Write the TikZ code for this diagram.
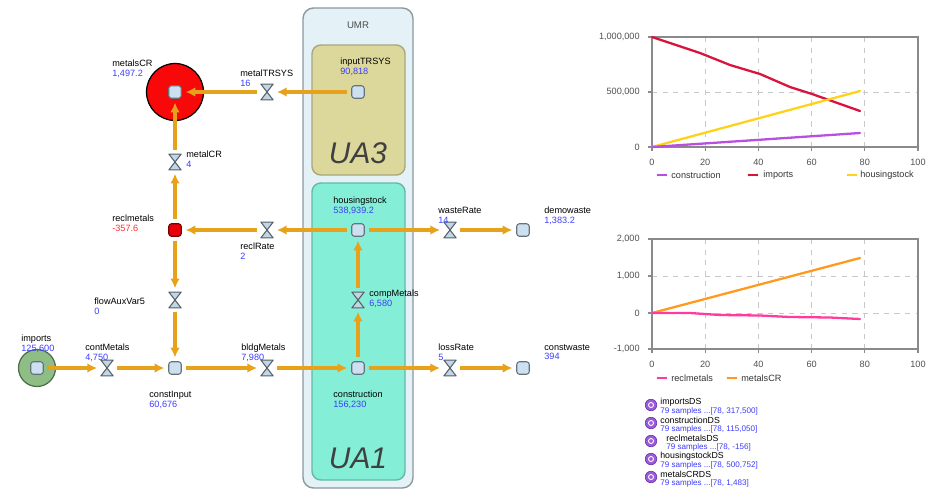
\documentclass[tikz,border=0pt]{standalone}
\usepackage{fontspec}
\setmainfont{Liberation Sans}
\usetikzlibrary{arrows.meta, positioning}

\definecolor{umrfill}{HTML}{E4F1F7}
\definecolor{umrline}{HTML}{8C979E}
\definecolor{ua3fill}{HTML}{DCD89B}
\definecolor{ua3line}{HTML}{A9A77C}
\definecolor{ua1fill}{HTML}{85EED7}
\definecolor{ua1line}{HTML}{62B9A6}
\definecolor{floworange}{HTML}{E6A21A}
\definecolor{stockfill}{HTML}{CCE0F0}
\definecolor{stockline}{HTML}{66727C}
\definecolor{valvefill}{HTML}{C3D6E4}
\definecolor{valveline}{HTML}{55606A}
\definecolor{crred}{HTML}{F80808}
\definecolor{recred}{HTML}{E8000A}
\definecolor{recdark}{HTML}{7A0000}
\definecolor{impgreen}{HTML}{8EBE86}
\definecolor{impdark}{HTML}{4E6E49}
\definecolor{valblue}{HTML}{3C3CFF}
\definecolor{valred}{HTML}{FF3030}
\definecolor{gridgray}{HTML}{C8C8C8}
\definecolor{axisgray}{HTML}{8A8A8A}
\definecolor{tickgray}{HTML}{505050}
\definecolor{consline}{HTML}{B84FE0}
\definecolor{impline}{HTML}{D8143E}
\definecolor{houseline}{HTML}{FFD21A}
\definecolor{reclline}{HTML}{FF3C9C}
\definecolor{crline}{HTML}{FF9A1E}
\definecolor{dspurple}{HTML}{9B5AD8}
\definecolor{dsdark}{HTML}{7338B0}

\begin{document}
\begin{tikzpicture}[
    x=0.02cm, y=-0.02cm,
    >={Latex[length=5.5pt,width=5.5pt]},
    every node/.style={font=\fontsize{5.2}{5.4}\selectfont},
    stock/.style={rectangle, rounded corners=1.5pt, draw=stockline, fill=stockfill,
        line width=0.6pt, minimum size=0.25cm, inner sep=0},
    ring/.style={circle, draw=black, line width=0.7pt, inner sep=0},
    valve/.style={inner sep=0, minimum width=0.23cm, minimum height=0.3cm},
    hourglass/.style={draw=valveline, fill=valvefill, line width=0.6pt, line join=round},
    flow/.style={draw=floworange, line width=2.2pt, ->, shorten >=2.2pt, shorten <=2.2pt},
    tag/.style={anchor=north west, align=left, inner sep=0},
    big/.style={font=\fontsize{17}{17}\itshape, text=black!75},
    tick/.style={text=tickgray, inner sep=0},
    gridline/.style={draw=gridgray, dashed, line width=0.4pt},
    frame/.style={draw=axisgray, line width=0.6pt},
    series/.style={line width=1.3pt, line cap=round},
    dsicon/.style={circle, fill=dspurple, draw=dsdark, line width=0.4pt, minimum size=0.23cm, inner sep=0}
]
\useasboundingbox (0,0) rectangle (942,494);

% regions
\draw[umrline, fill=umrfill, line width=0.8pt, rounded corners=6pt] (303,8) rectangle (413,488);
\draw[ua3line, fill=ua3fill, line width=0.8pt, rounded corners=5pt] (312,45) rectangle (405,175);
\draw[ua1line, fill=ua1fill, line width=0.8pt, rounded corners=5pt] (312,183) rectangle (405,480);
\node[font=\fontsize{5.5}{6}\selectfont, text=black!70] (UMR) at (358,25) {UMR};
\node[big] (UA3) at (358,153) {UA3};
\node[big] (UA1) at (358,458) {UA1};

% stocks and valves
\node[ring, fill=crred, minimum size=1.14cm] (metalsCRring) at (175,92) {};
\node[stock] (metalsCR) at (175,92) {};
\node[valve] (metalTRSYS) at (267,92) {};
\node[stock] (inputTRSYS) at (358,92) {};
\node[valve] (metalCR) at (175,162) {};
\node[stock, fill=recred, draw=recdark] (reclmetals) at (175,230) {};
\node[valve] (reclRate) at (267,230) {};
\node[stock] (housingstock) at (358,230) {};
\node[valve] (wasteRate) at (450,230) {};
\node[stock] (demowaste) at (523,230) {};
\node[valve] (flowAuxVar5) at (175,300) {};
\node[valve] (compMetals) at (358,300) {};
\node[ring, fill=impgreen, draw=impdark, minimum size=0.74cm] (importsring) at (37,368) {};
\node[stock] (imports) at (37,368) {};
\node[valve] (contMetals) at (107,368) {};
\node[stock] (constInput) at (175,368) {};
\node[valve] (bldgMetals) at (267,368) {};
\node[stock] (construction) at (358,368) {};
\node[valve] (lossRate) at (450,368) {};
\node[stock] (constwaste) at (523,368) {};

\foreach \v in {metalTRSYS, metalCR, reclRate, wasteRate, flowAuxVar5,
                compMetals, contMetals, bldgMetals, lossRate}
  \draw[hourglass] (\v.north west) -- (\v.north east) -- (\v.south west) -- (\v.south east) -- cycle;

% flows
\foreach \a/\b in {inputTRSYS/metalTRSYS, metalTRSYS/metalsCR, reclmetals/metalCR,
                   metalCR/metalsCR, housingstock/reclRate, reclRate/reclmetals,
                   housingstock/wasteRate, wasteRate/demowaste, reclmetals/flowAuxVar5,
                   flowAuxVar5/constInput, imports/contMetals, contMetals/constInput,
                   constInput/bldgMetals, bldgMetals/construction, construction/compMetals,
                   compMetals/housingstock, construction/lossRate, lossRate/constwaste}
  \draw[flow] (\a) -- (\b);

% labels
\node[tag] (metalsCR-t) at (112,60) {metalsCR\\\textcolor{valblue}{1,497.2}};
\node[tag] (metalTRSYS-t) at (240,70) {metalTRSYS\\\textcolor{valblue}{16}};
\node[tag] (inputTRSYS-t) at (340,58) {inputTRSYS\\\textcolor{valblue}{90,818}};
\node[tag] (metalCR-t) at (186,151) {metalCR\\\textcolor{valblue}{4}};
\node[tag] (reclmetals-t) at (112,215) {reclmetals\\\textcolor{valred}{-357.6}};
\node[tag] (reclRate-t) at (240,243) {reclRate\\\textcolor{valblue}{2}};
\node[tag] (housingstock-t) at (333,197) {housingstock\\\textcolor{valblue}{538,939.2}};
\node[tag] (wasteRate-t) at (438,207) {wasteRate\\\textcolor{valblue}{14}};
\node[tag] (demowaste-t) at (544,207) {demowaste\\\textcolor{valblue}{1,383.2}};
\node[tag] (flowAuxVar5-t) at (94,298) {flowAuxVar5\\\textcolor{valblue}{0}};
\node[tag] (compMetals-t) at (369,290) {compMetals\\\textcolor{valblue}{6,580}};
\node[tag] (imports-t) at (21,335) {imports\\\textcolor{valblue}{125,600}};
\node[tag] (contMetals-t) at (85,344) {contMetals\\\textcolor{valblue}{4,750}};
\node[tag] (bldgMetals-t) at (241,344) {bldgMetals\\\textcolor{valblue}{7,980}};
\node[tag] (lossRate-t) at (438,344) {lossRate\\\textcolor{valblue}{5}};
\node[tag] (constwaste-t) at (544,344) {constwaste\\\textcolor{valblue}{394}};
\node[tag] (constInput-t) at (149,391) {constInput\\\textcolor{valblue}{60,676}};
\node[tag] (construction-t) at (333,391) {construction\\\textcolor{valblue}{156,230}};

% chart 1
\draw[gridline] (705.2,37) -- (705.2,147) (758.4,37) -- (758.4,147)
                (811.6,37) -- (811.6,147) (864.8,37) -- (864.8,147) (652,92) -- (918,92);
\draw[frame] (652,37) rectangle (918,147);
\foreach \i/\t in {0/0,1/20,2/40,3/60,4/80,5/100} {
  \draw[frame] (652+53.2*\i,147) -- (652+53.2*\i,151);
  \node[tick] (c1x\i) at (652+53.2*\i,162) {\t};
}
\foreach \i/\y/\t in {0/37/{1,000,000},1/92/{500,000},2/147/0} {
  \draw[frame] (648,\y) -- (652,\y);
  \node[tick, anchor=east] (c1y\i) at (640,\y) {\t};
}
\draw[series, impline] (652,37) -- (700,53) -- (730,65) -- (760,74) -- (790,87) -- (812,94) -- (860,111);
\draw[series, houseline] (652,147) -- (860,91);
\draw[series, consline] (652,147) -- (860,133);
\draw[consline, line width=0.8pt] (657,175) -- (667,175);
\fill[consline] (658,175) circle[radius=0.8pt] (666,175) circle[radius=0.8pt];
\node[tick, anchor=west, text=black!80] (c1l1) at (671,175) {construction};
\draw[impline, line width=0.8pt] (748,175) -- (758,175);
\fill[impline] (749,175) circle[radius=0.8pt] (757,175) circle[radius=0.8pt];
\node[tick, anchor=west, text=black!80] (c1l2) at (763,175) {imports};
\draw[houseline, line width=0.8pt] (847,175) -- (857,175);
\fill[houseline] (848,175) circle[radius=0.8pt] (856,175) circle[radius=0.8pt];
\node[tick, anchor=west, text=black!80] (c1l3) at (860,175) {housingstock};

% chart 2
\draw[gridline] (705.2,239) -- (705.2,349) (758.4,239) -- (758.4,349)
                (811.6,239) -- (811.6,349) (864.8,239) -- (864.8,349)
                (652,276) -- (918,276) (652,313) -- (918,313);
\draw[frame] (652,239) rectangle (918,349);
\foreach \i/\t in {0/0,1/20,2/40,3/60,4/80,5/100} {
  \draw[frame] (652+53.2*\i,349) -- (652+53.2*\i,353);
  \node[tick] (c2x\i) at (652+53.2*\i,364) {\t};
}
\foreach \i/\y/\t in {0/239/{2,000},1/276/{1,000},2/313/0,3/349/{-1,000}} {
  \draw[frame] (648,\y) -- (652,\y);
  \node[tick, anchor=east] (c2y\i) at (640,\y) {\t};
}
\draw[series, crline] (652,313) -- (860,258);
\draw[series, reclline] (652,313) -- (690,313) -- (720,315) -- (760,315.5) -- (790,317) -- (830,317.5) -- (860,319);
\draw[reclline, line width=0.8pt] (657,378) -- (667,378);
\fill[reclline] (658,378) circle[radius=0.8pt] (666,378) circle[radius=0.8pt];
\node[tick, anchor=west, text=black!80] (c2l1) at (671,378) {reclmetals};
\draw[crline, line width=0.8pt] (727,378) -- (737,378);
\fill[crline] (728,378) circle[radius=0.8pt] (736,378) circle[radius=0.8pt];
\node[tick, anchor=west, text=black!80] (c2l2) at (741,378) {metalsCR};

% datasets
\foreach \i/\y/\s/\n/\v in {1/405/0/importsDS/{317,500}, 2/423/0/constructionDS/{115,050},
                            3/441/6/reclmetalsDS/{-156}, 4/459/0/housingstockDS/{500,752},
                            5/477/0/metalsCRDS/{1,483}} {
  \node[dsicon] (ds\i) at (651,\y) {};
  \draw[white, line width=0.5pt] (ds\i) circle[radius=0.05cm];
  \node[anchor=west, inner sep=0, font=\fontsize{5}{5.4}\selectfont] (ds\i-n) at (660+\s,\y-3) {\n};
  \node[anchor=west, inner sep=0, font=\fontsize{4.6}{5}\selectfont, text=valblue]
    (ds\i-v) at (660+\s,\y+6) {79 samples ...[78, \v]};
}
\end{tikzpicture}
\end{document}
